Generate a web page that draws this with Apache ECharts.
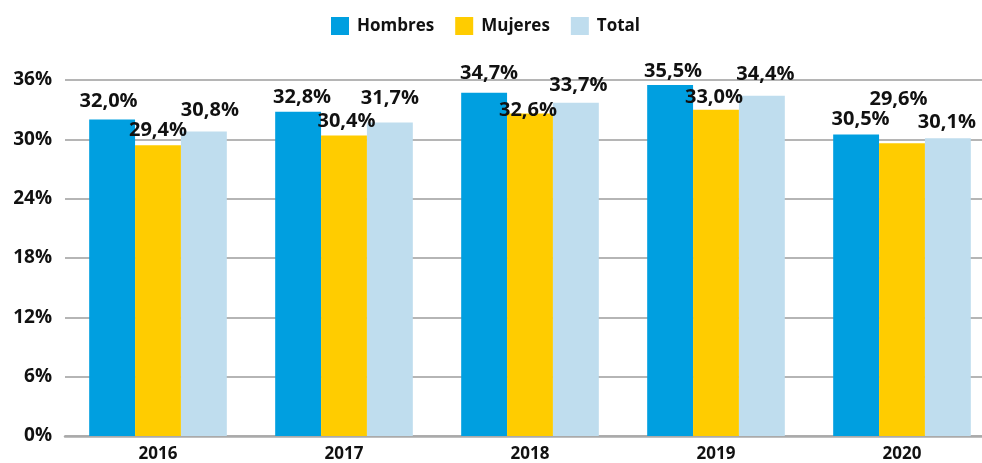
<!DOCTYPE html>
<html>
<head>
<meta charset="utf-8">
<script src="https://cdn.jsdelivr.net/npm/echarts@6/dist/echarts.min.js"></script>
<style>
html,body{margin:0;padding:0;background:#fff;}
#chart{width:982px;height:463px;}
</style>
</head>
<body>
<div id="chart"></div>
<script>
const categories = ['2016', '2017', '2018', '2019', '2020'];
const hombres = [32.0, 32.8, 34.7, 35.5, 30.5];
const mujeres = [29.4, 30.4, 32.6, 33.0, 29.6];
const total = [30.8, 31.7, 33.7, 34.4, 30.1];
const seriesNames = ['Hombres', 'Mujeres', 'Total'];

// label offsets (style only)
const offH = [[-3.5,-8],[4,-4.6],[5,-10],[3,-4],[4.5,-5]];
const offM = [[0,-5],[2.5,-4.4],[-2,6.4],[-2,-2.7],[-3.5,-33.8]];
const offT = [[6,-11],[0,-14.5],[2.5,-7.7],[3.5,-11.3],[-1,-5.8]];

const FONT = 'Open Sans';
const fmt = v => v.toFixed(1).replace('.', ',') + '%';

function mk(name, data, offs, color) {
  return {
    name: name,
    type: 'bar',
    barGap: '0%',
    barCategoryGap: '26%',
    itemStyle: { color: color },
    data: data.map((v, i) => ({
      value: v,
      label: { offset: offs[i] }
    })),
    label: {
      show: true,
      position: 'top',
      distance: 0,
      lineHeight: 20,
      fontFamily: FONT,
      fontWeight: 'bold',
      fontSize: 20,
      color: '#111',
      formatter: p => fmt(p.value)
    }
  };
}

const chart = echarts.init(document.getElementById('chart'), null, { renderer: 'canvas' });
chart.setOption({
  animation: false,
  textStyle: { fontFamily: FONT },
  legend: {
    top: 12,
    left: 326,
    itemWidth: 18,
    itemHeight: 18,
    itemGap: 21,
    icon: 'rect',
    textStyle: { fontFamily: FONT, fontWeight: 'bold', fontSize: 17, color: '#111', padding: [0,0,0,3] },
    data: seriesNames
  },
  grid: { left: 65, top: 80, width: 930, height: 356, outerBoundsMode: 'none', containLabel: false },
  xAxis: {
    type: 'category',
    data: categories,
    axisTick: { show: false },
    axisLine: { lineStyle: { color: '#aaaaaa', width: 2.5 } },
    axisLabel: { margin: 10, fontFamily: FONT, fontWeight: 'bold', fontSize: 17, color: '#111' }
  },
  yAxis: {
    type: 'value',
    min: 0, max: 36, interval: 6,
    axisLine: { show: false },
    axisTick: { show: false },
    splitLine: { lineStyle: { color: '#b5b5b5', width: 2 } },
    axisLabel: { margin: 13, fontFamily: FONT, fontWeight: 'bold', fontSize: 19, color: '#111', formatter: '{value}%' }
  },
  series: [
    mk(seriesNames[0], hombres, offH, '#009FE0'),
    mk(seriesNames[1], mujeres, offM, '#FFCC00'),
    mk(seriesNames[2], total, offT, '#BFDDEE')
  ]
});
</script>
</body>
</html>
